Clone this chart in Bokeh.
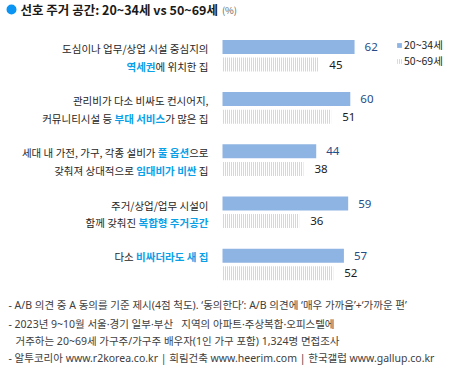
import subprocess
from bokeh.plotting import figure
from bokeh.models import Range1d, Label, Legend, LegendItem
from bokeh.core.properties import value
from bokeh.embed import file_html
from bokeh.resources import INLINE

# ---------------- data ----------------
series_names = ["20~34세", "50~69세"]
young = [62, 60, 44, 59, 57]
old = [45, 51, 38, 36, 52]
label_lines = [
    [[("도심이나 업무/상업 시설 중심지의", False)],
     [("역세권", True), ("에 위치한 집", False)]],
    [[("관리비가 다소 비싸도 컨시어지,", False)],
     [("커뮤니티시설 등 ", False), ("부대 서비스", True), ("가 많은 집", False)]],
    [[("세대 내 가전, 가구, 각종 설비가 ", False), ("풀 옵션", True), ("으로", False)],
     [("갖춰져 상대적으로 ", False), ("임대비가 비싼", True), (" 집", False)]],
    [[("주거/상업/업무 시설이", False)],
     [("함께 갖춰진 ", False), ("복합형 주거공간", True)]],
    [[("다소 ", False), ("비싸더라도 새 집", True)]],
]
title_text = "선호 주거 공간: 20~34세 vs 50~69세"
unit_text = "(%)"
notes = [
    "- A/B 의견 중 A 동의를 기준 제시(4점 척도). ‘동의한다’: A/B 의견에 ‘매우 가까움’+‘가까운 편’",
    "- 2023년 9~10월 서울·경기 일부·부산 \u00a0 지역의 아파트·주상복합·오피스텔에",
    "거주하는 20~69세 가구주/가구주 배우자(1인 가구 포함) 1,324명 면접조사",
    "- 알투코리아 www.r2korea.co.kr | 희림건축 www.heerim.com | 한국갤럽 www.gallup.co.kr",
]

# ---------------- styles ----------------
FONT = "Noto Sans CJK KR"
NOTE_FONT = "Noto Sans, Noto Sans CJK KR"
NUM_FONT = "Noto Sans"
BAR = "#8EB4E3"
NAVY = "#254C86"
HIL = "#0AA0E8"
TXT = "#262626"
CAT_SIZE = 10.5

W, H = 450, 368
K = 2.13          # px per percentage point
X0 = 222          # bar origin (px from left of canvas)
PITCH = 52.2      # px per group
Y0 = 55.2         # first group centre (px from top)
BAR_H = 14
DY = 8.8


# ---------------- text measuring ----------------
def _font_file(pattern):
    try:
        out = subprocess.run(["fc-match", "-f", "%{file}\t%{index}", pattern],
                             capture_output=True, text=True, timeout=5).stdout
        path, idx = out.split("\t")
        return path, int(idx)
    except Exception:
        return None


_cache = {}


def measure(text, size, bold=False):
    if bold not in _cache:
        f = None
        try:
            from PIL import ImageFont
            ff = _font_file(FONT + (":bold" if bold else ""))
            if ff:
                f = ImageFont.truetype(ff[0], 100, index=ff[1])
        except Exception:
            f = None
        _cache[bold] = f
    f = _cache[bold]
    if f is not None:
        try:
            return f.getlength(text) * size / 100.0
        except Exception:
            pass
    w = 0.0
    for ch in text:
        if "\uac00" <= ch <= "\ud7a3":
            w += 1.0
        elif ch == " ":
            w += 0.224
        elif ch in ",.:":
            w += 0.25
        elif ch == "/":
            w += 0.38
        else:
            w += 0.55
    return w * size * (1.04 if bold else 1.0)


# ---------------- figure ----------------
p = figure(width=W, height=H, output_backend="svg", toolbar_location=None,
           x_range=Range1d(-X0 / K, (W - X0) / K),
           y_range=Range1d((H - Y0) / PITCH, -Y0 / PITCH),
           min_border=0, outline_line_color=None, background_fill_color="white",
           border_fill_color="white")
p.axis.visible = False
p.grid.visible = False

idx = list(range(len(young)))
yb = [i - DY / PITCH for i in idx]
ys = [i + DY / PITCH for i in idx]

r1 = p.hbar(y=yb, left=0, right=young, height=BAR_H / PITCH,
            fill_color=BAR, line_color=None)
r2 = p.hbar(y=ys, left=0, right=old, height=BAR_H / PITCH,
            fill_color="white", line_color=None,
            hatch_pattern="vertical_line", hatch_color=BAR,
            hatch_scale=2, hatch_weight=1)

p.text(x=young, y=yb, text=[str(v) for v in young], x_offset=10,
       text_baseline="middle", text_align="left", text_font=value(NUM_FONT),
       text_font_size="11.5px", text_color=NAVY)
p.text(x=old, y=ys, text=[str(v) for v in old], x_offset=11,
       text_baseline="middle", text_align="left", text_font=value(NUM_FONT),
       text_font_size="11.5px", text_color="#1a1a1a")

# category labels with highlighted segments (right-aligned, built right to left)
norm = dict(x=[], y=[], t=[], off=[])
bold = dict(x=[], y=[], t=[], off=[])
for i, lines in enumerate(label_lines):
    if len(lines) == 2:
        ly = [yb[i] + 1.5 / PITCH, ys[i] + 1.5 / PITCH]
    else:
        ly = [yb[i] + 1 / PITCH]
    for line, yy in zip(lines, ly):
        right = -14.0
        for seg, hl in reversed(line):
            d = bold if hl else norm
            trail = len(seg) - len(seg.rstrip(" "))
            d["x"].append(0)
            d["y"].append(yy)
            d["t"].append(seg.strip(" "))
            d["off"].append(right - measure(" " * trail, CAT_SIZE, hl))
            right -= measure(seg, CAT_SIZE, hl)

p.text(x=norm["x"], y=norm["y"], text=norm["t"], x_offset=norm["off"],
       text_align="right", text_baseline="middle", text_font=value(FONT),
       text_font_size=f"{CAT_SIZE}px", text_color=TXT)
p.text(x=bold["x"], y=bold["y"], text=bold["t"], x_offset=bold["off"],
       text_align="right", text_baseline="middle", text_font=value(FONT),
       text_font_size=f"{CAT_SIZE}px", text_font_style="bold", text_color=HIL)

# legend
legend = Legend(items=[LegendItem(label=series_names[0], renderers=[r1]),
                       LegendItem(label=series_names[1], renderers=[r2])],
                location=(396, H - 68), orientation="vertical",
                glyph_width=6, glyph_height=6, label_standoff=2,
                label_height=12, spacing=1, padding=0, margin=0,
                border_line_color=None, background_fill_alpha=0,
                label_text_font=FONT, label_text_font_size="10.5px",
                label_text_color=TXT)
p.add_layout(legend)

# title
x_px = lambda px: -X0 / K + px / K
y_px = lambda py: -Y0 / PITCH + py / PITCH
p.scatter(x=[x_px(11)], y=[y_px(9)], size=10, marker="circle",
          fill_color="#0A95F5", line_color=None)
p.add_layout(Label(x=20, y=H - 9, x_units="screen", y_units="screen",
                   text=title_text, text_font=FONT, text_font_size="12.5px",
                   text_font_style="bold", text_baseline="middle",
                   text_color="#1a1a1a"))
tw = measure(title_text, 12.5, True)
p.add_layout(Label(x=20 + tw + 4, y=H - 9, x_units="screen", y_units="screen",
                   text=unit_text, text_font=FONT, text_font_size="9.5px",
                   text_baseline="middle", text_color="#666666"))

# footnotes
note_y = [304, 323, 340, 357]
note_x = [8, 8, 15, 8]
for t, xx, yy in zip(notes, note_x, note_y):
    p.add_layout(Label(x=xx, y=H - yy, x_units="screen", y_units="screen",
                       text=t, text_font=NOTE_FONT, text_font_size="10.5px",
                       text_baseline="middle", text_color="#404040"))

open("out.html", "w").write(file_html(p, INLINE))
